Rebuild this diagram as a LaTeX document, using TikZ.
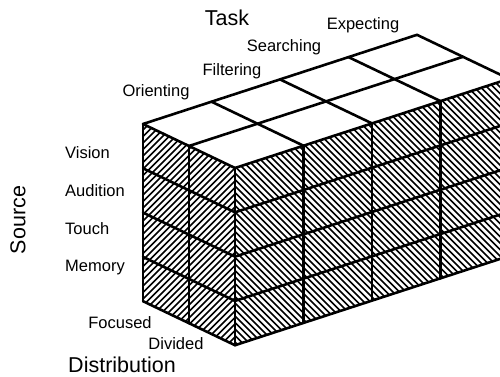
\documentclass[tikz,border=0pt]{standalone}
\usepackage{fontspec}
\setmainfont{Liberation Sans}
\begin{document}
\begin{tikzpicture}[x=1pt,y=-1pt,
  edge/.style={line width=2.6pt,line join=round,line cap=round},
  hatch/.style={line width=1.5pt},
  small/.style={font=\fontsize{16.5}{18}\selectfont,inner sep=0pt},
  big/.style={font=\fontsize{21.5}{24}\selectfont,inner sep=0pt}]
\useasboundingbox (0,0) rectangle (500,376);
\clip (0,0) rectangle (500,376);
% cube corners
\begin{scope}[shift={(143,124)},x={(68.5pt,22.3pt)},y={(0pt,-44.3pt)},z={(46pt,-22pt)}]
  \coordinate (A) at (0,0,0);   % back-left top
  \coordinate (B) at (0,0,2);   % front top
  \coordinate (C) at (0,4,2);   % front bottom
  \coordinate (D) at (0,4,0);   % back-left bottom
  \coordinate (E) at (4,0,0);   % back-right top
  \coordinate (F) at (4,0,2);   % far-right top
  \coordinate (G) at (4,4,2);   % far-right bottom
\end{scope}
% hatching of the left face
\begin{scope}
  \clip (A) -- (B) -- (C) -- (D) -- cycle;
  \foreach \c in {260,266.5,...,590} \draw[hatch] (\c-360,360) -- (\c-90,90);
\end{scope}
% hatching of the right face
\begin{scope}
  \clip (B) -- (F) -- (G) -- (C) -- cycle;
  \foreach \c in {-120,-113.5,...,440} \draw[hatch] (\c+60,60) -- (\c+360,360);
\end{scope}
% grid and edges
\begin{scope}[shift={(143,124)},x={(68.5pt,22.3pt)},y={(0pt,-44.3pt)},z={(46pt,-22pt)}]
  % top face
  \foreach \j in {0,1,2} \draw[edge] (0,0,\j) -- (4,0,\j);
  \foreach \i in {0,...,4} \draw[edge] (\i,0,0) -- (\i,0,2);
  % left face
  \foreach \j in {0,1,2} \draw[edge] (0,0,\j) -- (0,4,\j);
  \foreach \k in {1,...,4} \draw[edge] (0,\k,0) -- (0,\k,2);
  % right face
  \foreach \i in {0,...,4} \draw[edge] (\i,0,2) -- (\i,4,2);
  \foreach \k in {1,...,4} \draw[edge] (0,\k,2) -- (4,\k,2);
\end{scope}
% labels
\node[big] (task) at (227,18) {Task};
\node[small] (expecting) at (363,25) {Expecting};
\node[small] (searching) at (284,47) {Searching};
\node[small] (filtering) at (232,71) {Filtering};
\node[small] (orienting) at (156,92) {Orienting};
\node[small,anchor=west] (vision) at (65,153) {Vision};
\node[small,anchor=west] (audition) at (65,191) {Audition};
\node[small,anchor=west] (touch) at (65,229) {Touch};
\node[small,anchor=west] (memory) at (65,268) {Memory};
\node[big,rotate=90] (source) at (18,220) {Source};
\node[small] (focused) at (120,323) {Focused};
\node[small] (divided) at (176,344) {Divided};
\node[big,anchor=base] (distribution) at (122,372) {Distribution};
\end{tikzpicture}
\end{document}
